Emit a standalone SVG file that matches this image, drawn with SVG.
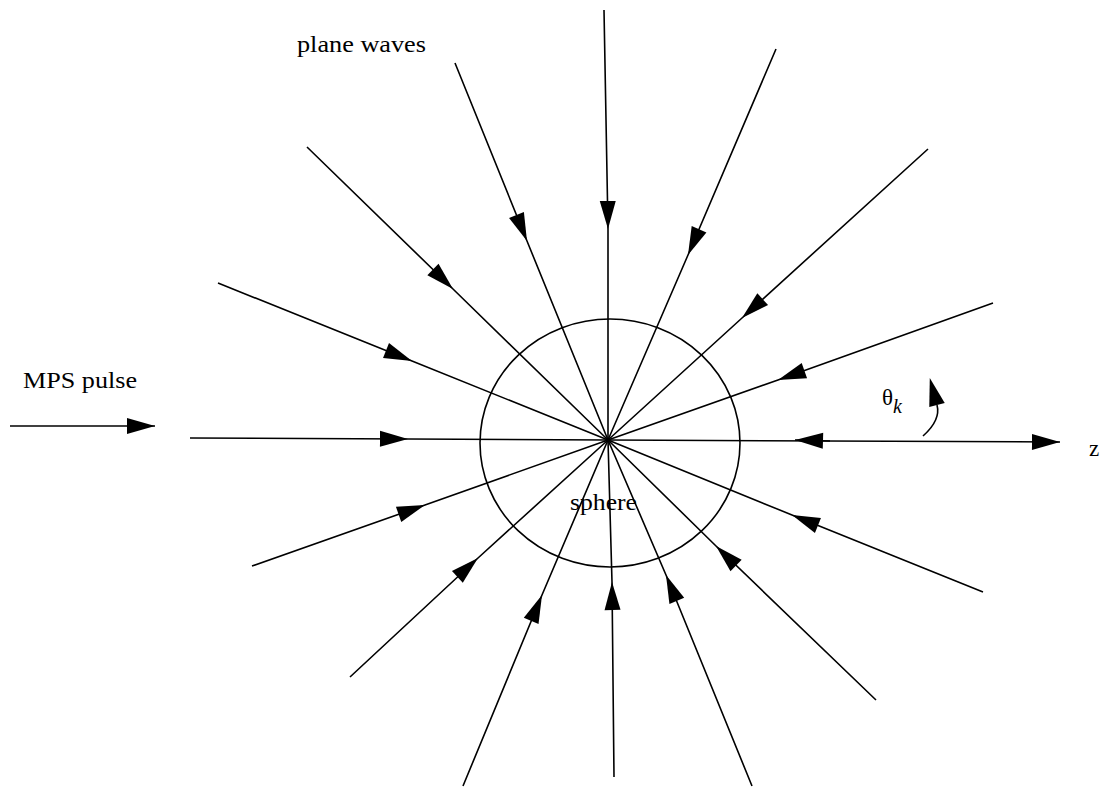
<svg xmlns="http://www.w3.org/2000/svg" width="1112" height="788" viewBox="0 0 1112 788">
<style>
.ray{fill:none;stroke:#000;stroke-width:1.6;marker-mid:url(#ah)}
.ln{fill:none;stroke:#000;stroke-width:1.6}
.t{font-family:"Liberation Serif","Times New Roman",serif;font-size:23px;fill:#000}
</style>
<defs>
<marker id="ah" markerUnits="userSpaceOnUse" markerWidth="32" markerHeight="20" viewBox="-30 -10 32 20" refX="0" refY="0" orient="auto" overflow="visible">
<path d="M0,0 L-28,-8 L-28,8 Z" fill="#000"/>
</marker>
<marker id="ab" markerUnits="userSpaceOnUse" markerWidth="32" markerHeight="20" viewBox="-2 -10 32 20" refX="0" refY="0" orient="auto" overflow="visible">
<path d="M0,-8 L28,0 L0,8 Z" fill="#000"/>
</marker>
</defs>
<rect width="1112" height="788" fill="#fff"/>
<g id="sphere">
<ellipse cx="610" cy="443" rx="130" ry="124" fill="none" stroke="#000" stroke-width="1.6"/>
<text class="t" x="570" y="510" textLength="67" lengthAdjust="spacingAndGlyphs">sphere</text>
</g>
<g id="connectors">
<path class="ray" d="M604,10 L608,229 L608,440"/>
<path class="ray" d="M455,63 L527,241 L608,440"/>
<path class="ray" d="M776,49 L688,255 L608,440"/>
<path class="ray" d="M307,147 L453,289 L608,440"/>
<path class="ray" d="M928,149 L742,318 L608,440"/>
<path class="ray" d="M218,283 L412,361 L608,440"/>
<path class="ray" d="M993,303 L778,380 L608,440"/>
<path class="ray" d="M190,438 L408,439 L608,440"/>
<path class="ln" d="M608,440 L1060,442" marker-end="url(#ah)"/>
<path class="ln" d="M830,441 L795,440" marker-end="url(#ah)"/>
<path class="ray" d="M252,566 L425,505 L608,440"/>
<path class="ray" d="M983,592 L792,515 L608,440"/>
<path class="ray" d="M350,677 L478,558 L608,440"/>
<path class="ray" d="M876,700 L716,546 L608,440"/>
<path class="ray" d="M463,786 L542,595 L608,440"/>
<path class="ray" d="M614,777 L612,582 L608,440"/>
<path class="ray" d="M752,786 L666,575 L608,440"/>
<path class="ln" d="M10,426 L155,426" marker-end="url(#ah)"/>
<path class="ln" d="M923,436 Q941,420 937,405" marker-end="url(#ab)"/>
</g>
<g id="labels">
<text class="t" x="297" y="52" textLength="129" lengthAdjust="spacingAndGlyphs">plane waves</text>
<text class="t" x="23" y="388" textLength="114" lengthAdjust="spacingAndGlyphs">MPS pulse</text>
<text class="t" x="882" y="405" font-size="28">θ<tspan font-style="italic" font-size="20" dy="8">k</tspan></text>
<text class="t" x="1089" y="456" font-size="30">z</text>
</g>
</svg>
